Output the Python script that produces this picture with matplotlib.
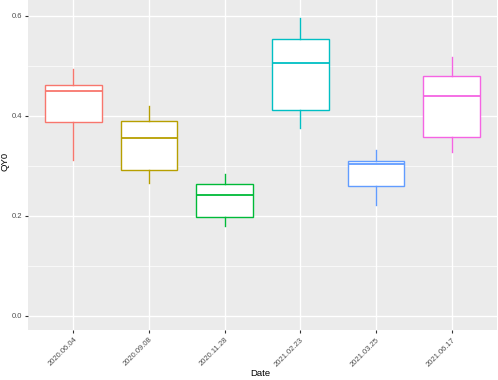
import matplotlib
matplotlib.use("Agg")
import matplotlib.pyplot as plt
from matplotlib.ticker import MultipleLocator, FormatStrFormatter

plt.rcParams['font.family'] = ['Liberation Sans', 'DejaVu Sans']

dates = ["2020.06.04", "2020.09.08", "2020.11.28", "2021.02.23", "2021.03.25", "2021.06.17"]
whisker_low = [0.313, 0.267, 0.181, 0.377, 0.222, 0.329]
q1 = [0.389, 0.292, 0.198, 0.413, 0.261, 0.359]
median = [0.451, 0.357, 0.243, 0.507, 0.304, 0.440]
q3 = [0.463, 0.391, 0.265, 0.555, 0.311, 0.481]
whisker_high = [0.494, 0.420, 0.284, 0.597, 0.333, 0.518]
colors = ["#F8766D", "#B79F00", "#00BA38", "#00BFC4", "#619CFF", "#F564E3"]

fig = plt.figure(figsize=(4.98, 3.8), dpi=100)
ax = fig.add_axes([28/498, 50/380, 469/498, 330/380])
ax.set_facecolor("#EBEBEB")

for i in range(len(dates)):
    st = [dict(med=median[i], q1=q1[i], q3=q3[i], whislo=whisker_low[i],
               whishi=whisker_high[i], fliers=[], label=dates[i])]
    c = colors[i]
    ax.bxp(st, positions=[i + 1], widths=0.75, showfliers=False, showcaps=False,
           patch_artist=True,
           boxprops=dict(facecolor="white", edgecolor=c, linewidth=1.0),
           medianprops=dict(color=c, linewidth=1.3),
           whiskerprops=dict(color=c, linewidth=1.0),
           manage_ticks=False, zorder=3)

ax.set_xlim(0.4, 6.6)
ax.set_ylim(-0.028, 0.632)
ax.set_xticks(range(1, len(dates) + 1))
ax.set_xticklabels(dates, rotation=45, ha="right", rotation_mode="anchor")
ax.yaxis.set_major_locator(MultipleLocator(0.2))
ax.yaxis.set_minor_locator(MultipleLocator(0.1))
ax.yaxis.set_major_formatter(FormatStrFormatter("%.1f"))

ax.grid(True, which="major", color="white", linewidth=1.0, zorder=0)
ax.grid(True, which="minor", axis="y", color="white", linewidth=0.5, zorder=0)
ax.set_axisbelow(True)
for s in ax.spines.values():
    s.set_visible(False)
ax.tick_params(axis="both", which="major", length=2.5, width=0.8, color="#333333",
               labelsize=5.5, labelcolor="#4D4D4D", pad=2)
ax.tick_params(axis="y", which="minor", length=0)
ax.set_xlabel("Date", fontsize=6.8, va="center")
ax.set_ylabel("QY0", fontsize=6.8, va="center")
ax.xaxis.set_label_coords((260 - 28)/469, -44/330)
ax.yaxis.set_label_coords(-22.5/469, (330 - 161)/330)

fig.savefig("out.png", dpi=100)
